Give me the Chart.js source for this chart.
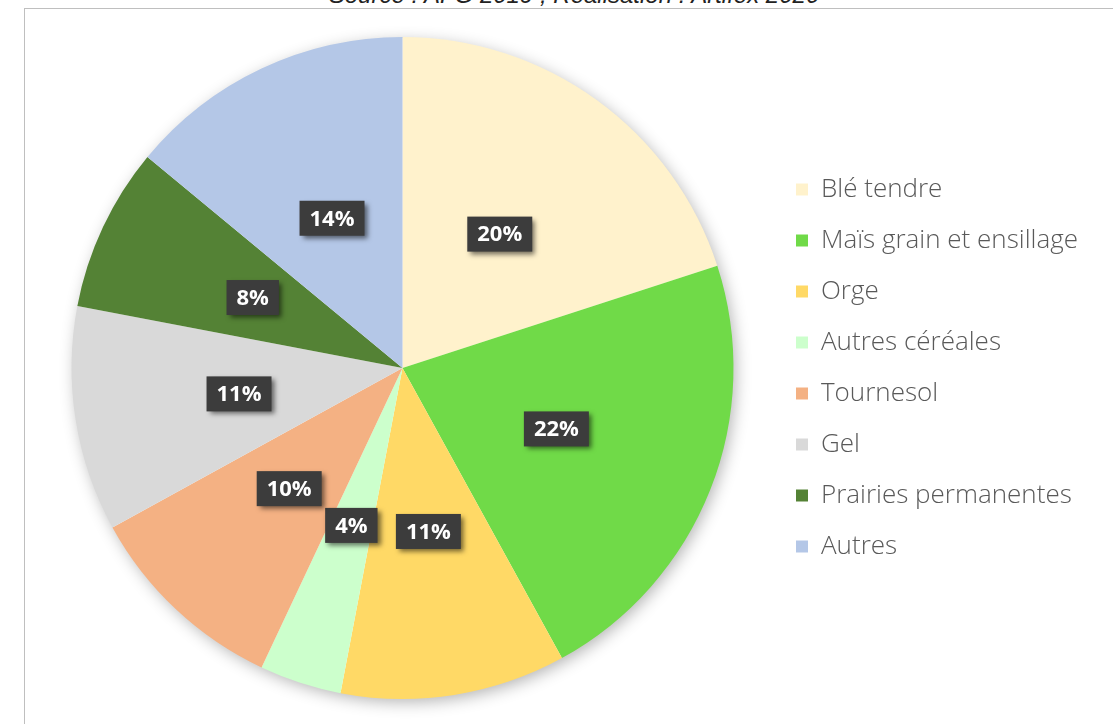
<!DOCTYPE html>
<html lang="fr">
<head>
<meta charset="utf-8">
<script src="https://cdn.jsdelivr.net/npm/chart.js@4.4.1/dist/chart.umd.min.js"></script>
<style>
  html, body { margin: 0; padding: 0; background: #fff; overflow: hidden; }
  #wrap { position: relative; width: 1113px; height: 724px; }
  #frame { position: absolute; left: 24px; top: 8px; width: 1200px; height: 800px; border: 1px solid #bfbfbf; }
  #source { position: absolute; left: 0; top: -17px; width: 1148px; text-align: center;
            font: italic 24px "Liberation Sans", Arial, sans-serif; line-height: 24px; color: #222; }
  #myChart { position: absolute; left: 0; top: 0; }
</style>
</head>
<body>
<div id="wrap">
  <div id="frame"></div>
  <div id="source">Source : AFG 2019 ; Réalisation : Artifex 2020</div>
  <canvas id="myChart" width="1113" height="724"></canvas>
</div>
<script>
const cultures = [
  "Blé tendre",
  "Maïs grain et ensillage",
  "Orge",
  "Autres céréales",
  "Tournesol",
  "Gel",
  "Prairies permanentes",
  "Autres"
];
const parts = [20, 22, 11, 4, 10, 11, 8, 14];
const couleurs = [
  "#FFF2CC",
  "#70DA48",
  "#FFD966",
  "#CCFFCC",
  "#F4B183",
  "#D9D9D9",
  "#548235",
  "#B4C7E7"
];

// soft shadow behind the whole pie
const pieShadow = {
  id: "pieShadow",
  beforeDatasetsDraw(chart) {
    const arc = chart.getDatasetMeta(0).data[0];
    if (!arc) return;
    const ctx = chart.ctx;
    ctx.save();
    ctx.shadowColor = "rgba(0,0,0,0.30)";
    ctx.shadowBlur = 16;
    ctx.shadowOffsetX = 3;
    ctx.shadowOffsetY = 4;
    ctx.fillStyle = "#ffffff";
    ctx.beginPath();
    ctx.arc(arc.x, arc.y, arc.outerRadius - 1, 0, Math.PI * 2);
    ctx.fill();
    ctx.restore();
  }
};

// dark percentage tags in the middle of each slice
const pctTags = {
  id: "pctTags",
  afterDatasetsDraw(chart) {
    const ctx = chart.ctx;
    const meta = chart.getDatasetMeta(0);
    ctx.save();
    ctx.font = "bold 22px 'Open Sans', sans-serif";
    ctx.textAlign = "center";
    ctx.textBaseline = "middle";
    meta.data.forEach(function (arc, i) {
      const p = arc.tooltipPosition();
      const txt = parts[i] + "%";
      const w = ctx.measureText(txt).width + 20;
      const h = 35;
      ctx.save();
      ctx.shadowColor = "rgba(0,0,0,0.55)";
      ctx.shadowBlur = 5;
      ctx.shadowOffsetX = 3;
      ctx.shadowOffsetY = 3;
      ctx.fillStyle = "#3c3c3c";
      ctx.fillRect(p.x - w / 2, p.y - h / 2, w, h);
      ctx.restore();
      ctx.fillStyle = "#ffffff";
      ctx.fillText(txt, p.x, p.y + 1);
    });
    ctx.restore();
  }
};

const ctx = document.getElementById("myChart");
const myChart = new Chart(ctx, {
  type: "pie",
  data: {
    labels: cultures,
    datasets: [
      {
        data: parts,
        backgroundColor: couleurs,
        borderWidth: 0,
      },
    ],
  },
  options: {
    responsive: false,
    animation: false,
    layout: {
      padding: { top: 37, bottom: 25, left: 34, right: 25 }
    },
    plugins: {
      legend: {
        position: "right",
        labels: {
          boxWidth: 12,
          boxHeight: 12,
          padding: 25,
          color: "#595959",
          font: { family: "Open Sans", size: 26, weight: "300" }
        }
      },
      tooltip: { enabled: false }
    }
  },
  plugins: [pieShadow, pctTags]
});
</script>
</body>
</html>
